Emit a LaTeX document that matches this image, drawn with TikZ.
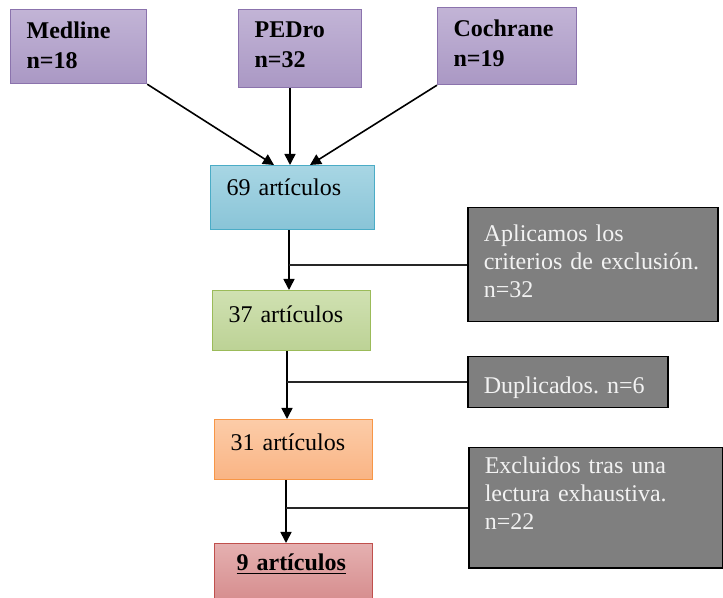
\documentclass[tikz,border=0pt]{standalone}
\usepackage{fontspec}
\setmainfont{Liberation Serif}
\usetikzlibrary{arrows.meta}
\frenchspacing

\definecolor{purpleTop}{HTML}{C2B4D6}
\definecolor{purpleBot}{HTML}{AA98C4}
\definecolor{purpleLine}{HTML}{8B73AD}
\definecolor{blueTop}{HTML}{A8D6E4}
\definecolor{blueBot}{HTML}{89C4D7}
\definecolor{blueLine}{HTML}{4BACC6}
\definecolor{greenTop}{HTML}{D0E1B2}
\definecolor{greenBot}{HTML}{BCD295}
\definecolor{greenLine}{HTML}{9BBB59}
\definecolor{orangeTop}{HTML}{FCCCA8}
\definecolor{orangeBot}{HTML}{F9B484}
\definecolor{orangeLine}{HTML}{F79646}
\definecolor{redTop}{HTML}{E5B0B0}
\definecolor{redBot}{HTML}{D58B8C}
\definecolor{redLine}{HTML}{C0504D}
\definecolor{exclFill}{HTML}{7F7F7F}

\begin{document}
\begin{tikzpicture}[
    x=0.5pt, y=-0.5pt,
    every node/.style={font=\fontsize{12pt}{14pt}\selectfont},
    box/.style={rectangle, anchor=north west, align=left, inner xsep=8pt, inner ysep=0pt},
    source/.style={box, draw=purpleLine, line width=0.6pt, top color=purpleTop, bottom color=purpleBot,
                   font=\fontsize{12pt}{15pt}\selectfont\bfseries},
    excl/.style={box, draw=black, line width=0.75pt, fill=exclFill, text=white!95!black},
    arrow/.style={line width=0.8pt, -{Triangle[length=5.5pt, width=5.5pt]}},
    link/.style={line width=0.8pt, black!85}
]
\useasboundingbox (0,0) rectangle (723,598);

% databases
\node[source, text width=52pt, text height=14.5pt, text depth=22.5pt] (medline) at (10,9) {Medline\\n=18};
\node[source, text width=45.5pt, text height=14pt, text depth=25pt] (pedro) at (238,9) {PEDro\\n=32};
\node[source, text width=53.5pt, text height=14.5pt, text depth=24pt] (cochrane) at (437,7) {Cochrane\\n=19};

% articles kept
\node[box, draw=blueLine, line width=0.6pt, top color=blueTop, bottom color=blueBot,
      text width=66pt, text height=15pt, text depth=17pt] (n69) at (210,165) {69 artículos};
\node[box, draw=greenLine, line width=0.6pt, top color=greenTop, bottom color=greenBot,
      text width=63pt, text height=16pt, text depth=14pt] (n37) at (212,290) {37 artículos};
\node[box, draw=orangeLine, line width=0.6pt, top color=orangeTop, bottom color=orangeBot,
      text width=63pt, text height=15.5pt, text depth=14.5pt] (n31) at (214,419) {31 artículos};
\node[box, draw=redLine, line width=0.6pt, top color=redTop, bottom color=redBot, inner xsep=11pt,
      text width=57pt, text height=13.5pt, text depth=16.5pt] (n9) at (214,543) {\underline{\textbf{9 artículos}}};

% excluded
\node[excl, text width=109pt, text height=17pt, text depth=40pt] (crit) at (467,207) {Aplicamos los\\criterios de exclusión.\\n=32};
\node[excl, text width=84pt, text height=18.5pt, text depth=7pt] (dup) at (467,356) {Duplicados. n=6};
\node[excl, text width=111pt, text height=13pt, text depth=47pt] (lect) at (468,447) {Excluidos tras una\\lectura exhaustiva.\\n=22};

% spine
\coordinate (s1) at ([xshift=39.5pt]n69.south west);
\coordinate (s2) at ([xshift=37.5pt]n37.south west);
\coordinate (s3) at ([xshift=36pt]n31.south west);

% arrows
\draw[arrow] (medline.south east) -- ([xshift=32pt]n69.north west);
\draw[arrow] ([xshift=26pt]pedro.south west) -- ([xshift=40pt]n69.north west);
\draw[arrow] (cochrane.south west) -- ([xshift=50pt]n69.north west);

\draw[arrow] (s1) -- (s1 |- n37.north);
\draw[arrow] (s2) -- (s2 |- n31.north);
\draw[arrow] (s3) -- (s3 |- n9.north);

\draw[link] (crit.west) -- (s1 |- crit.west);
\draw[link] (dup.west) -- (s2 |- dup.west);
\draw[link] (lect.west) -- (s3 |- lect.west);

\end{tikzpicture}
\end{document}
